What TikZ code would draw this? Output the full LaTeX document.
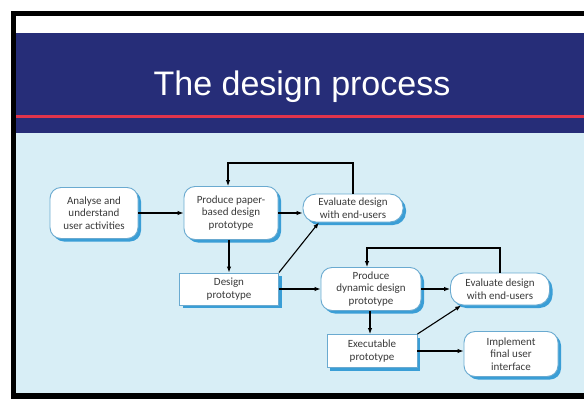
\documentclass[tikz,border=0pt]{standalone}
\usepackage{fontspec}
\setmainfont{Carlito}
\newfontfamily\titlefont{Liberation Sans}
\usetikzlibrary{shadows,arrows.meta}
\definecolor{navy}{HTML}{262D78}
\definecolor{redline}{HTML}{E0344C}
\definecolor{lightbg}{HTML}{D8EEF6}
\definecolor{shadowblue}{HTML}{3A9ED6}
\definecolor{bordercol}{HTML}{6AAAD0}
\definecolor{textgray}{HTML}{3A3A3A}
\tikzset{
  box/.style={draw=bordercol, line width=0.9pt, fill=white, align=center,
    text=textgray, font=\fontsize{11}{12.5}\selectfont, inner sep=1pt,
    drop shadow={shadow xshift=3pt, shadow yshift=-3pt, fill=shadowblue, opacity=1}},
  roundbox/.style={box, rounded corners=11pt},
  pillbox/.style={box, rounded corners=13pt},
  rectbox/.style={box, rounded corners=0pt},
  arr/.style={draw=black, line width=1.1pt, -{Latex[length=6pt,width=4.5pt]}}
}
\begin{document}
\begin{tikzpicture}[x=1pt,y=-1pt]
\useasboundingbox (0,0) rectangle (584,399);
\fill[white] (0,0) rectangle (584,399);
\fill[black] (11,11) rectangle (584,399);
\fill[white] (16,16) rectangle (584,33);
\fill[navy] (16,33) rectangle (584,133);
\fill[redline] (16,115) rectangle (584,118);
\fill[lightbg] (16,133) rectangle (584,393);
\node[text=white, font=\titlefont\fontsize{34}{40}\selectfont] (title) at (302,87) {The design process};

\node[roundbox, minimum width=88pt, minimum height=51pt] (analyse) at (94,213) {Analyse and\\understand\\user activities};
\node[roundbox, minimum width=94pt, minimum height=53pt] (paper) at (231,213) {Produce paper-\\based design\\prototype};
\node[pillbox, minimum width=100pt, minimum height=28pt] (eval1) at (353,208) {Evaluate design\\with end-users};
\node[rectbox, minimum width=99pt, minimum height=32pt] (design) at (229,289) {Design\\prototype};
\node[roundbox, minimum width=100pt, minimum height=43pt] (dynamic) at (371,289) {Produce\\dynamic design\\prototype};
\node[pillbox, minimum width=99pt, minimum height=32pt] (eval2) at (500,289) {Evaluate design\\with end-users};
\node[rectbox, minimum width=90pt, minimum height=33pt] (exec) at (372,351) {Executable\\prototype};
\node[roundbox, minimum width=94pt, minimum height=45pt] (impl) at (511,354) {Implement\\final user\\interface};

\draw[arr] (analyse) -- (paper);
\draw[arr] (paper.east) -- (paper.east -| eval1.west);
\draw[arr] (eval1.north) -- (eval1.north |- 0,163) -| ([xshift=-3pt]paper.north);
\draw[arr] ([xshift=-2pt]paper.south) -- ([xshift=-2pt]paper.south |- design.north);
\draw[arr] (design.north east) -- (eval1.203);
\draw[arr] (design.east) -- (design.east -| dynamic.west);
\draw[arr] (dynamic) -- (eval2);
\draw[arr] (eval2.north) -- (eval2.north |- 0,248) -| ([xshift=-4pt]dynamic.north);
\draw[arr] ([xshift=-1pt]dynamic.south) -- ([xshift=-1pt]dynamic.south |- exec.north);
\draw[arr] (exec.north east) -- (eval2.203);
\draw[arr] (exec.east) -- (exec.east -| impl.west);
\end{tikzpicture}
\end{document}
